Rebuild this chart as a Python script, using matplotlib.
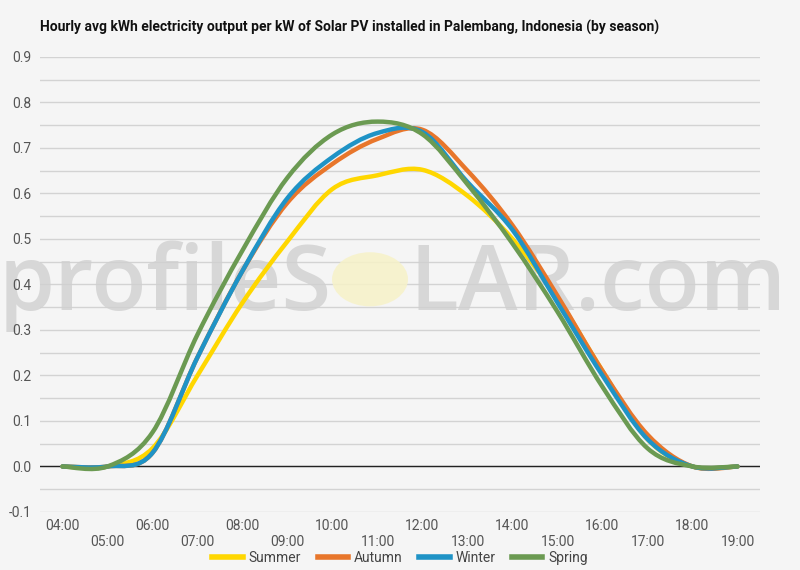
import numpy as np
import matplotlib.pyplot as plt
from matplotlib.path import Path
from matplotlib.patches import PathPatch, Circle
from matplotlib.lines import Line2D

plt.rcParams['font.family'] = ['Roboto', 'DejaVu Sans']

hours = np.arange(4, 20)
hour_labels = [f"{h:02d}:00" for h in hours]

summer = [0.0, 0.0, 0.04, 0.20, 0.36, 0.495, 0.61, 0.64, 0.652, 0.595, 0.50, 0.37, 0.21, 0.06, 0.0, 0.0]
autumn = [0.0, 0.0, 0.03, 0.24, 0.43, 0.58, 0.665, 0.72, 0.74, 0.65, 0.53, 0.375, 0.21, 0.07, 0.0, 0.0]
winter = [0.0, 0.0, 0.03, 0.24, 0.43, 0.59, 0.68, 0.733, 0.735, 0.625, 0.52, 0.36, 0.20, 0.06, 0.0, 0.0]
spring = [0.0, 0.0, 0.075, 0.29, 0.475, 0.635, 0.73, 0.758, 0.73, 0.62, 0.49, 0.34, 0.175, 0.04, 0.0, 0.0]

series = {"Summer": summer, "Autumn": autumn, "Winter": winter, "Spring": spring}
colors = {"Summer": "#FFD700", "Autumn": "#E8762B", "Winter": "#1F93C6", "Spring": "#6B9A52"}


def smooth_path(x, y, t=1 / 6):
    # Excel-like smoothed line: Catmull-Rom converted to cubic Bezier segments
    pts = np.column_stack([x, y]).astype(float)
    n = len(pts)
    verts = [pts[0]]
    codes = [Path.MOVETO]
    for i in range(n - 1):
        p0 = pts[i - 1] if i > 0 else pts[i]
        p3 = pts[i + 2] if i + 2 < n else pts[i + 1]
        c1 = pts[i] + (pts[i + 1] - p0) * t
        c2 = pts[i + 1] - (p3 - pts[i]) * t
        verts += [c1, c2, pts[i + 1]]
        codes += [Path.CURVE4] * 3
    return Path(verts, codes)


bg = "#F5F5F5"
fig = plt.figure(figsize=(8, 5.7), dpi=100, facecolor=bg)
ax = fig.add_axes([0.05, 0.1018, 0.90, 0.7982])
ax.set_facecolor(bg)

ax.set_xlim(3.5, 19.5)
ax.set_ylim(-0.1, 0.9)

# grid every 0.05, labels every 0.1
for v in np.arange(-0.1, 0.901, 0.05):
    ax.axhline(v, color="#D3D3D3", lw=1, zorder=0)
ax.axhline(0, color="#222222", lw=1, zorder=1)

ax.set_yticks(np.round(np.arange(-0.1, 0.901, 0.1), 1))
ax.set_yticklabels([f"{v:.1f}" for v in np.arange(-0.1, 0.901, 0.1)])
ax.set_xticks(hours)
ax.set_xticklabels([lab if h % 2 == 0 else "\n" + lab for h, lab in zip(hours, hour_labels)])
ax.tick_params(length=0, labelsize=10, labelcolor="#555555", pad=6)
ax.tick_params(axis="x", pad=5)
for s in ax.spines.values():
    s.set_visible(False)

# watermark
wm = dict(transform=fig.transFigure, va="baseline", fontsize=65, family="Open Sans",
          fontweight="semibold", color="#D0D0D0", alpha=0.8, zorder=1, clip_on=False)
ax.text(0.415, 0.456, "profileS", ha="right", **wm)
ax.text(0.512, 0.456, "LAR.com", ha="left", **wm)
fig.patches.append(Circle((0.4625, 0.51), 0.0475, transform=fig.transFigure,
                          facecolor="#F7F2C8", edgecolor="none", alpha=0.85, zorder=1))

for name, vals in series.items():
    patch = PathPatch(smooth_path(hours, vals), facecolor="none", edgecolor=colors[name],
                      lw=3.2, capstyle="round", joinstyle="round", zorder=3)
    ax.add_patch(patch)

handles = [Line2D([], [], color=colors[n], lw=4) for n in series]
fig.legend(handles, list(series.keys()), loc="center", bbox_to_anchor=(0.5, 0.021),
           ncol=4, frameon=False, fontsize=10, handlelength=2.2, columnspacing=1.2,
           handletextpad=0.4, labelcolor="#444444")

fig.text(0.05, 0.951, "Hourly avg kWh electricity output per kW of Solar PV installed in Palembang, Indonesia (by season)",
         fontsize=10, fontweight="bold", color="#111111", va="center")

fig.savefig("out.png", dpi=100, facecolor=bg)
